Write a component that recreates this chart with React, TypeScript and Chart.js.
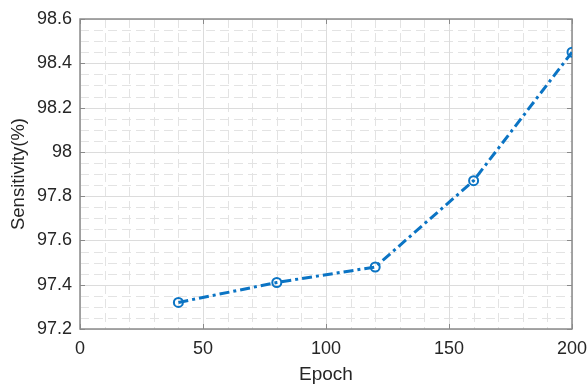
import React, { useEffect, useRef } from "react";
import { Chart, registerables } from "chart.js";

Chart.register(...registerables);

const epochs = [40, 80, 120, 160, 200];
const sensitivity = [97.32, 97.41, 97.48, 97.87, 98.45];
const xMin = 0, xMax = 200, xMajor = 50, xMinor = 10;
const yMin = 97.2, yMax = 98.6, yMajor = 0.2, yMinor = 0.05;

const gridPlugin = {
  id: "matlabGrid",
  beforeDatasetsDraw(chart: any) {
    const { ctx, chartArea: a, scales } = chart;
    const xs = scales.x, ys = scales.y;
    ctx.save();
    ctx.lineWidth = 1;
    ctx.strokeStyle = "#e3e3e3";
    ctx.setLineDash([9, 5]);
    for (let v = xMin; v <= xMax + 1e-9; v += xMinor) {
      const p = Math.round(xs.getPixelForValue(v)) + 0.5;
      ctx.beginPath(); ctx.moveTo(p, a.top); ctx.lineTo(p, a.bottom); ctx.stroke();
    }
    for (let v = yMin; v <= yMax + 1e-9; v += yMinor) {
      const p = Math.round(ys.getPixelForValue(v)) + 0.5;
      ctx.beginPath(); ctx.moveTo(a.left, p); ctx.lineTo(a.right, p); ctx.stroke();
    }
    ctx.setLineDash([]);
    ctx.strokeStyle = "#dcdcdc";
    for (let v = xMin; v <= xMax + 1e-9; v += xMajor) {
      const p = Math.round(xs.getPixelForValue(v)) + 0.5;
      ctx.beginPath(); ctx.moveTo(p, a.top); ctx.lineTo(p, a.bottom); ctx.stroke();
    }
    for (let v = yMin; v <= yMax + 1e-9; v += yMajor) {
      const p = Math.round(ys.getPixelForValue(v)) + 0.5;
      ctx.beginPath(); ctx.moveTo(a.left, p); ctx.lineTo(a.right, p); ctx.stroke();
    }
    ctx.strokeStyle = "#8a8a8a";
    ctx.lineWidth = 1.5;
    ctx.strokeRect(a.left, a.top, a.right - a.left, a.bottom - a.top);
    ctx.lineWidth = 1;
    const tl = 5;
    for (let v = xMin; v <= xMax + 1e-9; v += xMajor) {
      const p = Math.round(xs.getPixelForValue(v)) + 0.5;
      ctx.beginPath(); ctx.moveTo(p, a.bottom); ctx.lineTo(p, a.bottom - tl); ctx.stroke();
      ctx.beginPath(); ctx.moveTo(p, a.top); ctx.lineTo(p, a.top + tl); ctx.stroke();
    }
    for (let v = yMin; v <= yMax + 1e-9; v += yMajor) {
      const p = Math.round(ys.getPixelForValue(v)) + 0.5;
      ctx.beginPath(); ctx.moveTo(a.left, p); ctx.lineTo(a.left + tl, p); ctx.stroke();
      ctx.beginPath(); ctx.moveTo(a.right, p); ctx.lineTo(a.right - tl, p); ctx.stroke();
    }
    ctx.restore();
  },
};

export default function App() {
  const ref = useRef<HTMLCanvasElement>(null);
  useEffect(() => {
    document.body.style.margin = "0";
    const font = "'Liberation Sans', Arial, sans-serif";
    const chart = new Chart(ref.current!, {
      type: "line",
      data: {
        datasets: [
          {
            data: epochs.map((x, i) => ({ x, y: sensitivity[i] })),
            borderColor: "#0b74c4",
            borderWidth: 3,
            borderDash: [10, 4, 3, 4],
            pointRadius: 4.5,
            pointBorderWidth: 2,
            pointBorderColor: "#0b74c4",
            pointBackgroundColor: "rgba(255,255,255,0)",
            fill: false,
            tension: 0,
          },
        ],
      },
      options: {
        animation: false,
        responsive: false,
        maintainAspectRatio: false,
        layout: { autoPadding: false, padding: { top: 19, right: 16, left: 4, bottom: 0 } },
        plugins: { legend: { display: false }, tooltip: { enabled: false } },
        scales: {
          x: {
            type: "linear",
            min: xMin,
            max: xMax,
            grid: { display: false, drawTicks: false },
            border: { display: false },
            ticks: {
              stepSize: xMajor,
              color: "#262626",
              padding: 9,
              maxRotation: 0,
              font: { family: font, size: 18 },
            },
            title: {
              display: true,
              text: "Epoch",
              color: "#262626",
              padding: { top: 0, bottom: 0 },
              font: { family: font, size: 19 },
            },
            afterFit(scale: any) {
              scale.height = 57;
              scale.paddingLeft = 0;
              scale.paddingRight = 0;
            },
          },
          y: {
            type: "linear",
            min: yMin,
            max: yMax,
            grid: { display: false, drawTicks: false },
            border: { display: false },
            ticks: {
              stepSize: yMajor,
              color: "#262626",
              padding: 8,
              font: { family: font, size: 18 },
              callback: (v: any) => {
                const n = Math.round(Number(v) * 10) / 10;
                return Number.isInteger(n) ? String(n) : n.toFixed(1);
              },
            },
            title: {
              display: true,
              text: "Sensitivity(%)",
              color: "#262626",
              padding: { top: 4, bottom: 4 },
              font: { family: font, size: 18.5 },
            },
            afterFit(scale: any) {
              scale.width = 76;
              scale.paddingTop = 0;
              scale.paddingBottom = 0;
            },
          },
        },
      },
      plugins: [gridPlugin],
    });
    return () => chart.destroy();
  }, []);
  return (
    <div style={{ width: 588, height: 386, background: "#fff" }}>
      <canvas ref={ref} width={588} height={386} style={{ display: "block" }} />
    </div>
  );
}
